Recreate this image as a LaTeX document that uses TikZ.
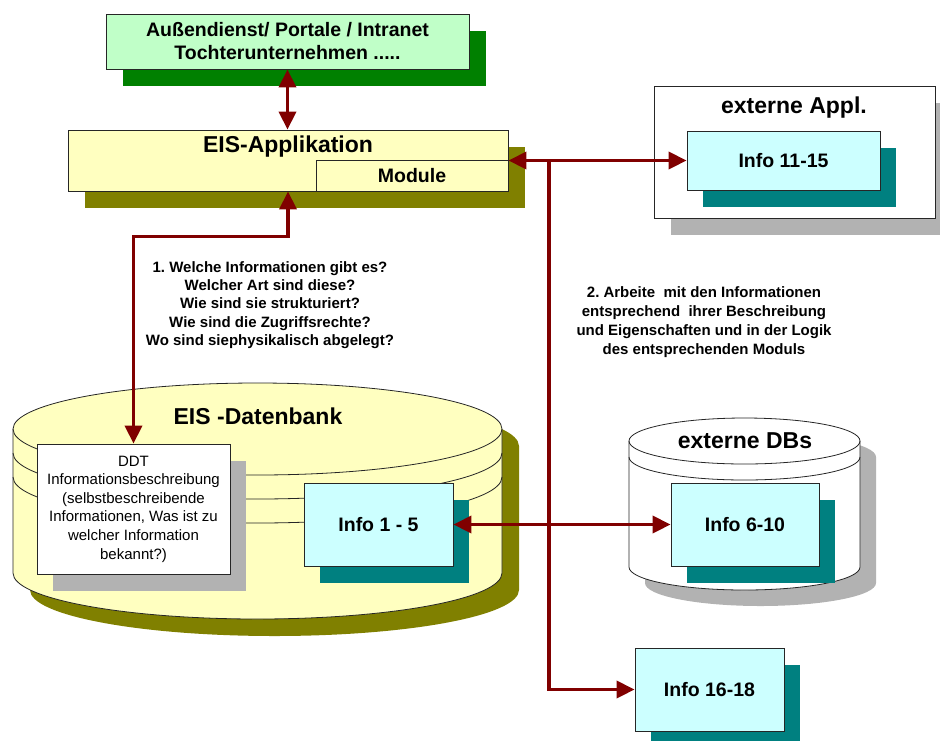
\documentclass[tikz,border=0pt]{standalone}
\usepackage{fontspec}
\setmainfont{Liberation Sans}
\usetikzlibrary{arrows.meta,shadows}
\definecolor{boxgreen}{RGB}{192,255,200}
\definecolor{shgreen}{RGB}{0,128,0}
\definecolor{boxyellow}{RGB}{255,255,192}
\definecolor{sholive}{RGB}{128,128,0}
\definecolor{boxcyan}{RGB}{204,255,255}
\definecolor{shteal}{RGB}{0,128,128}
\definecolor{shgray}{RGB}{178,178,178}
\definecolor{arrred}{RGB}{128,0,0}
\newcommand\myBig{\fontsize{23}{27}\selectfont\bfseries}
\newcommand\myMid{\fontsize{19.5}{23}\selectfont\bfseries}
\newcommand\mySmallB{\fontsize{15}{18.4}\selectfont\bfseries\frenchspacing}
\newcommand\mySmall{\fontsize{15}{18.6}\selectfont\frenchspacing}
\begin{document}
\begin{tikzpicture}[x=1pt,y=1pt,
  box/.style={rectangle, draw=black!85, line width=0.8pt, inner sep=0pt, align=center},
  greenbox/.style={box, fill=boxgreen, font=\myMid,
    drop shadow={shadow xshift=17pt,shadow yshift=-17pt,fill=shgreen,opacity=1}},
  yellowbox/.style={box, fill=boxyellow,
    drop shadow={shadow xshift=17pt,shadow yshift=-17pt,fill=sholive,opacity=1}},
  whitebox/.style={box, fill=white,
    drop shadow={shadow xshift=17pt,shadow yshift=-17pt,fill=shgray,opacity=1}},
  infobox/.style={box, fill=boxcyan, font=\myMid,
    drop shadow={shadow xshift=16pt,shadow yshift=-17pt,fill=shteal,opacity=1}},
  cyl/.style={draw=black!85, line width=0.8pt},
  title/.style={inner sep=0pt, font=\myBig},
  note/.style={inner sep=0pt, align=center, font=\mySmallB},
  conn/.style={draw=arrred, line width=3.5pt},
  >={Triangle[length=18pt,width=17pt]}
]
\clip (0,0) rectangle (940,-740);

% top box
\node[greenbox, minimum width=363pt, minimum height=55pt] (top) at (287.5,-41.5)
  {Außendienst/ Portale / Intranet\\Tochterunternehmen .....};

% EIS application
\node[yellowbox, minimum width=440pt, minimum height=61pt] (app) at (288,-160.5) {};
\node[title] (applbl) at (288,-147) {EIS-Applikation};
\node[box, fill=boxyellow, font=\myMid, minimum width=192pt, minimum height=31pt] (module) at (412,-175.5) {Module};

% externe Appl.
\node[whitebox, minimum width=281pt, minimum height=132pt] (extapp) at (794.5,-152) {};
\node[title] (extapplbl) at (794,-108) {externe Appl.};
\node[infobox, minimum width=193pt, minimum height=59pt] (i11) at (783.5,-160.5) {Info 11-15};

% EIS-Datenbank cylinder
\fill[sholive] (30,-446) arc[start angle=180,end angle=0,x radius=244.5pt,y radius=46pt]
  -- (519,-590) arc[start angle=0,end angle=-180,x radius=244.5pt,y radius=46pt] -- cycle;
\filldraw[cyl, fill=boxyellow] (13,-429) arc[start angle=180,end angle=0,x radius=244.5pt,y radius=46pt]
  -- (502,-573) arc[start angle=0,end angle=-180,x radius=244.5pt,y radius=46pt] -- cycle;
\draw[cyl] (13,-429) arc[start angle=180,end angle=360,x radius=244.5pt,y radius=46pt];
\draw[cyl] (13,-453) arc[start angle=180,end angle=360,x radius=244.5pt,y radius=46pt];
\draw[cyl] (13,-477) arc[start angle=180,end angle=360,x radius=244.5pt,y radius=46pt];
\node[title] (dblbl) at (258,-416) {EIS -Datenbank};

\node[box, fill=white, font=\mySmall, minimum width=193pt, minimum height=130pt,
  drop shadow={shadow xshift=16pt,shadow yshift=-17pt,fill=shgray,opacity=1}] (ddt) at (133.5,-509)
  {DDT\\Informationsbeschreibung\\(selbstbeschreibende\\Informationen, Was ist zu\\welcher Information\\bekannt?)};
\node[infobox, minimum width=149pt, minimum height=83pt] (i1) at (378.5,-524.5) {Info 1 - 5};

% externe DBs cylinder
\fill[shgray] (645,-457) arc[start angle=180,end angle=0,x radius=115.5pt,y radius=23pt]
  -- (876,-583) arc[start angle=0,end angle=-180,x radius=115.5pt,y radius=23pt] -- cycle;
\filldraw[cyl, fill=white] (629,-441) arc[start angle=180,end angle=0,x radius=115.5pt,y radius=23pt]
  -- (860,-567) arc[start angle=0,end angle=-180,x radius=115.5pt,y radius=23pt] -- cycle;
\draw[cyl] (629,-441) arc[start angle=180,end angle=360,x radius=115.5pt,y radius=23pt];
\draw[cyl] (629,-457) arc[start angle=180,end angle=360,x radius=115.5pt,y radius=23pt];
\node[title] (extdblbl) at (745,-441) {externe DBs};
\node[infobox, minimum width=148pt, minimum height=83pt] (i6) at (745,-524.5) {Info 6-10};

% Info 16-18
\node[infobox, minimum width=149pt, minimum height=83pt] (i16) at (709.5,-689.5) {Info 16-18};

% notes
\node[note] (q1) at (270,-305) {1. Welche Informationen gibt es?\\Welcher Art sind diese?\\Wie sind sie strukturiert?\\Wie sind die Zugriffsrechte?\\Wo sind siephysikalisch abgelegt?};
\node[note, font=\fontsize{15}{19}\selectfont\bfseries\frenchspacing] (q2) at (704,-322) {2. Arbeite~ mit den Informationen\\entsprechend~ ihrer Beschreibung\\und Eigenschaften und in der Logik\\des entsprechenden Moduls};

% connectors
\coordinate (J) at (549,-160.5);
\draw[conn,<->] (top.south) -- (top.south |- app.north);
\draw[conn,<->] (app.south) -- ++(0,-45) -| (ddt.north);
\draw[conn,<->] (app.east) -- (i11.west);
\draw[conn,->] (J) |- (i16.west);
\draw[conn,<->] (i1.east) -- (i6.west);
\end{tikzpicture}
\end{document}
